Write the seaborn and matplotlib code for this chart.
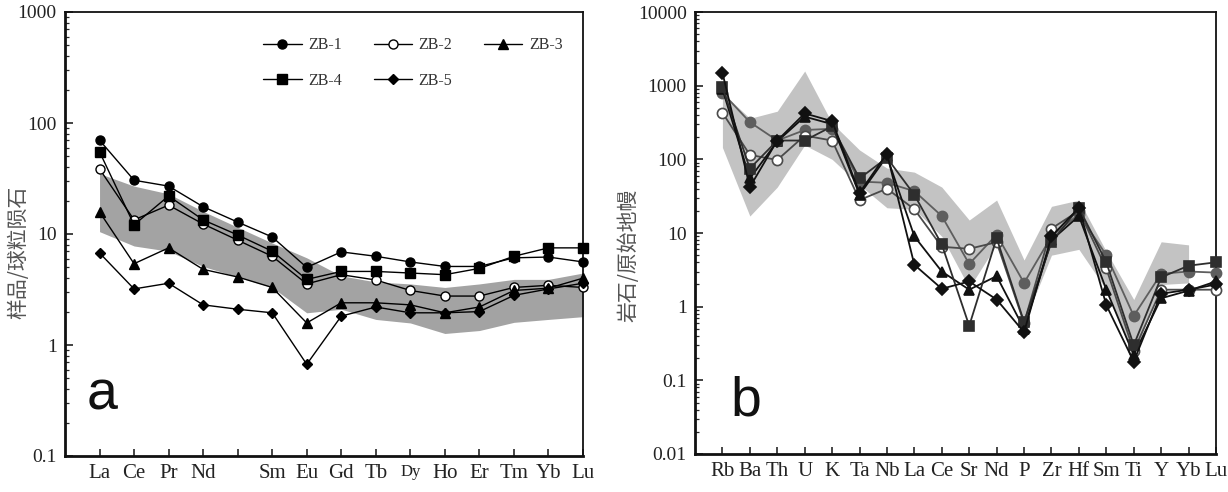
import numpy as np
import matplotlib
matplotlib.use("Agg")
import matplotlib.pyplot as plt
import seaborn as sns
from matplotlib.ticker import LogLocator, FixedLocator, FuncFormatter, NullFormatter

# ---- data: chondrite-normalised REE (panel a) ----
ree = ['La', 'Ce', 'Pr', 'Nd', '', 'Sm', 'Eu', 'Gd', 'Tb', 'Dy', 'Ho', 'Er', 'Tm', 'Yb', 'Lu']
samples = ['ZB-1', 'ZB-2', 'ZB-3', 'ZB-4', 'ZB-5']
ree_zb1 = [70, 30.5, 27, 17.6, 12.8, 9.4, 5.0, 6.9, 6.3, 5.6, 5.1, 5.1, 6.1, 6.2, 5.6]
ree_zb2 = [38.5, 13.4, 18.2, 12.3, 8.8, 6.3, 3.55, 4.3, 3.85, 3.1, 2.76, 2.76, 3.3, 3.45, 3.3]
ree_zb3 = [15.8, 5.4, 7.5, 4.8, 4.1, 3.3, 1.58, 2.4, 2.4, 2.3, 1.95, 2.2, 3.1, 3.25, 4.0]
ree_zb4 = [55, 12.1, 22, 13.4, 9.8, 7.0, 3.9, 4.6, 4.6, 4.45, 4.3, 4.9, 6.3, 7.5, 7.5]
ree_zb5 = [6.75, 3.2, 3.6, 2.3, 2.1, 1.95, 0.67, 1.82, 2.2, 1.95, 1.95, 2.0, 2.8, 3.2, 3.6]
ree_band_hi = [35, 27, 23, 16, 11.5, 8.3, 6.1, 4.2, 3.7, 3.55, 3.3, 3.55, 3.9, 3.9, 4.45]
ree_band_lo = [10.5, 7.8, 7.0, 5.1, 4.1, 3.3, 1.95, 2.1, 1.7, 1.58, 1.27, 1.35, 1.6, 1.7, 1.8]

# ---- data: primitive-mantle-normalised trace elements (panel b) ----
trace = ['Rb', 'Ba', 'Th', 'U', 'K', 'Ta', 'Nb', 'La', 'Ce', 'Sr', 'Nd', 'P', 'Zr', 'Hf',
         'Sm', 'Ti', 'Y', 'Yb', 'Lu']
tr_zb1 = [800, 320, 180, 250, 260, 50, 48, 37, 17, 3.8, 9.5, 2.1, 9, 18, 5, 0.75, 2.8, 3.0, 2.9]
tr_zb2 = [430, 115, 98, 210, 180, 28, 40, 21, 6.5, 6.1, 7.5, 0.6, 11.5, 20, 3.3, 0.25, 1.7, 1.7, 1.7]
tr_zb3 = [900, 55, 175, 380, 300, 33, 110, 9, 3, 1.7, 2.6, 0.5, 8, 17, 1.7, 0.22, 1.3, 1.65, 2.2]
tr_zb4 = [950, 75, 180, 180, 280, 55, 105, 33, 7, 0.55, 8.5, 0.62, 7.5, 22, 4, 0.3, 2.5, 3.6, 4.0]
tr_zb5 = [1500, 42, 180, 420, 330, 35, 120, 3.7, 1.75, 2.2, 1.25, 0.45, 9, 22, 1.05, 0.18, 1.5, 1.7, 2.0]
tr_band_hi = [800, 360, 450, 1580, 310, 134, 76, 67, 42, 15, 28, 4.3, 23, 28, 5.6, 1.25, 7.6, 6.9, np.nan]
tr_band_lo = [145, 17, 42, 156, 100, 45, 22, 21, 9, 1.8, 7, 0.6, 5, 6, 1.7, 0.22, 2.0, 2.1, np.nan]

ree_series = [ree_zb1, ree_zb2, ree_zb3, ree_zb4, ree_zb5]
tr_series = [tr_zb1, tr_zb2, tr_zb3, tr_zb4, tr_zb5]
markers = ['o', 'o', '^', 's', 'D']
msizes = [6.5, 6.5, 6.5, 6.5, 5]
tr_colors = ['#5e5e5e', '#4a4a4a', '#111111', '#2e2e2e', '#111111']

sns.set_theme(style="white")
plt.rcParams['font.family'] = ['Liberation Serif', 'DejaVu Serif']
plt.rcParams['axes.linewidth'] = 1.3

fig = plt.figure(figsize=(12.28, 4.92), dpi=100)
ax1 = fig.add_axes([65 / 1228, 36 / 492, 518 / 1228, 444 / 492])
ax2 = fig.add_axes([695 / 1228, 38 / 492, 521 / 1228, 442 / 492])

# panel a
xa = np.arange(len(ree))
ax1.fill_between(xa, ree_band_lo, ree_band_hi, color='#a3a3a3', lw=0, zorder=1)
for name, vals, m, ms in zip(samples, ree_series, markers, msizes):
    face = 'white' if name == 'ZB-2' else 'black'
    sns.lineplot(x=xa, y=vals, ax=ax1, color='black', lw=1, marker=m, markersize=ms,
                 mfc=face, mec='black', mew=1, clip_on=False, zorder=3, legend=False)
handles = ax1.lines[:5]
for h, n in zip(handles, samples):
    h.set_label(n)
order = [0, 3, 1, 4, 2]
ax1.legend([handles[i] for i in order], [samples[i] for i in order], ncol=3,
           loc='upper left', bbox_to_anchor=(0.355, 0.975), frameon=False,
           fontsize=11.5, handlelength=2.4, columnspacing=2.0, labelspacing=1.2,
           handletextpad=0.4, labelcolor='#333333')

# panel b
xb = np.arange(len(trace))
ax2.fill_between(xb, tr_band_lo, tr_band_hi, color='#c3c3c3', lw=0, zorder=1)
for name, vals, m, ms, c in zip(samples, tr_series, markers, msizes, tr_colors):
    face = 'white' if name == 'ZB-2' else c
    sns.lineplot(x=xb, y=vals, ax=ax2, color=c, lw=1.3, marker=m, markersize=ms + 0.8,
                 mfc=face, mec=c, mew=1.2, clip_on=False, zorder=3, legend=False)

fmt = FuncFormatter(lambda v, p: f'{v:g}')
for ax, labels, ylim in [(ax1, ree, (0.1, 1000)), (ax2, trace, (0.01, 10000))]:
    ax.set_yscale('log')
    ax.set_ylim(*ylim)
    ax.set_xlim(-1, len(labels) - 1)
    ax.xaxis.set_major_locator(FixedLocator(np.arange(len(labels))))
    ax.set_xticklabels(labels, fontsize=15, color='#222222')
    ax.yaxis.set_major_locator(LogLocator(base=10))
    ax.yaxis.set_minor_locator(LogLocator(base=10, subs=np.arange(2, 10)))
    ax.yaxis.set_major_formatter(fmt)
    ax.yaxis.set_minor_formatter(NullFormatter())
    ax.tick_params(axis='y', which='major', direction='in', length=6, width=1.2,
                   labelsize=14, colors='#222222', left=True, right=False, pad=6)
    ax.tick_params(axis='y', which='minor', direction='in', length=3, width=0.9,
                   left=True, right=False)
    ax.tick_params(axis='x', which='major', direction='in', length=5, width=1.2,
                   bottom=True, top=False, pad=6)
    ax.set_xlabel('')
    ax.set_ylabel('')
    ax.spines['left'].set_linewidth(2)
    ax.spines['bottom'].set_linewidth(2)
    for s in ax.spines.values():
        s.set_color('#111111')

# "Dy" is set smaller in the original
ax1.get_xticklabels()[9].set_fontsize(12)

ax1.text(0.042, 0.104, 'a', transform=ax1.transAxes, fontsize=40,
         family='Liberation Sans', va='baseline', color='#111111')
ax2.text(0.067, 0.086, 'b', transform=ax2.transAxes, fontsize=40,
         family='Liberation Sans', va='baseline', color='#111111')

fig.text(18 / 1228, 1 - 252 / 492, '样品/球粒陨石', rotation=90, ha='center', va='center',
         fontsize=15, color='#555555', family=['Noto Sans CJK SC', 'DejaVu Sans'])
fig.text(628 / 1228, 1 - 255 / 492, '岩石/原始地幔', rotation=90, ha='center', va='center',
         fontsize=15, color='#555555', family=['Noto Sans CJK SC', 'DejaVu Sans'])

fig.savefig('out.png', dpi=100)
